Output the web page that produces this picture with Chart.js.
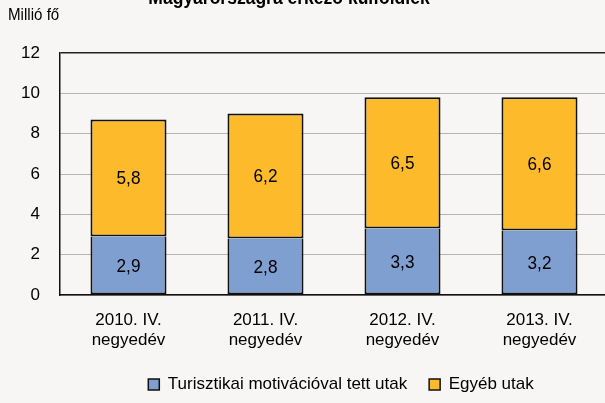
<!DOCTYPE html>
<html>
<head>
<meta charset="utf-8">
<script src="https://cdn.jsdelivr.net/npm/chart.js@4/dist/chart.umd.min.js"></script>
<style>
html,body{margin:0;padding:0;background:#f7f6f4;overflow:hidden;width:605px;height:403px;}
#wrap{position:absolute;left:0;top:0;width:625px;height:403px;}
</style>
</head>
<body>
<div id="wrap"><canvas id="c" width="625" height="403"></canvas></div>
<script>
const chartTitle = "Magyarországra érkező külföldiek";
const unitLabel = "Millió fő";
const categories = [["2010. IV.","negyedév"],["2011. IV.","negyedév"],["2012. IV.","negyedév"],["2013. IV.","negyedév"]];
const seriesNames = ["Turisztikai motivációval tett utak","Egyéb utak"];
const tourismTrips = [2.9, 2.8, 3.3, 3.2];
const otherTrips = [5.8, 6.2, 6.5, 6.6];
const yTicks = [0, 2, 4, 6, 8, 10, 12];

const FONT = "'Liberation Sans', Arial, sans-serif";

function narrowText(ctx, txt, x, y, sx) {
  ctx.save();
  ctx.translate(x, y);
  ctx.scale(sx, 1);
  ctx.fillText(txt, 0, 0);
  ctx.restore();
}

const textPlugin = {
  id: 'texts',
  afterLayout(chart) {
    const lg = chart.legend;
    if (lg) { lg.left += 37; lg.right += 37; }
  },
  afterDraw(chart) {
    const ctx = chart.ctx;
    ctx.save();
    ctx.fillStyle = '#000';
    ctx.textBaseline = 'alphabetic';
    ctx.font = "bold 21px " + FONT;
    ctx.textAlign = 'center';
    narrowText(ctx, chartTitle, 289, 4, 0.834);
    ctx.font = "17px " + FONT;
    ctx.textAlign = 'left';
    narrowText(ctx, unitLabel, 8, 20, 0.89);
    // data labels
    ctx.font = "18.5px " + FONT;
    ctx.textAlign = 'center';
    ctx.textBaseline = 'middle';
    chart.data.datasets.forEach((ds, i) => {
      const meta = chart.getDatasetMeta(i);
      meta.data.forEach((bar, j) => {
        const p = bar.getProps(['x','y','base'], true);
        const v = ds.data[j];
        narrowText(ctx, v.toFixed(1).replace('.', ','), p.x, (p.y + p.base) / 2 + 1, 0.93);
      });
    });
    ctx.restore();
  }
};

new Chart(document.getElementById('c'), {
  type: 'bar',
  data: {
    labels: categories,
    datasets: [
      {label: seriesNames[0], data: tourismTrips, backgroundColor: '#7f9fd1', borderColor: '#111', borderWidth: 2, borderSkipped: 'top'},
      {label: seriesNames[1], data: otherTrips, backgroundColor: '#fdbb2b', borderColor: '#111', borderWidth: 2, borderSkipped: false}
    ]
  },
  options: {
    responsive: false,
    animation: false,
    devicePixelRatio: 1,
    layout: {padding: {top: 53, right: 17, left: 0, bottom: 0}},
    datasets: {bar: {categoryPercentage: 1, barPercentage: 0.555}},
    plugins: {
      legend: {
        position: 'bottom',
        labels: {
          font: {family: FONT, size: 17},
          color: '#000',
          boxWidth: 11, boxHeight: 11,
          padding: 22,
          generateLabels(chart) {
            return chart.data.datasets.map((ds, i) => ({
              text: ds.label, fillStyle: ds.backgroundColor, strokeStyle: '#111', lineWidth: 1.5, datasetIndex: i, hidden: false
            }));
          }
        }
      },
      tooltip: {enabled: false}
    },
    scales: {
      x: {
        stacked: true,
        grid: {display: false, drawTicks: false},
        border: {display: true, color: '#111', width: 1.5},
        ticks: {font: {family: FONT, size: 17, lineHeight: 1.18}, color: '#000', padding: 15, maxRotation: 0},
        afterFit(s) { s.height = 59; }
      },
      y: {
        stacked: true,
        min: 0, max: 12,
        afterBuildTicks(s) { s.ticks = yTicks.map(v => ({value: v})); },
        grid: {
          drawTicks: false,
          color: ctx => ctx.tick && ctx.tick.value === 12 ? '#222' : '#b5b5b5',
          lineWidth: ctx => ctx.tick && ctx.tick.value === 12 ? 1.5 : 1
        },
        border: {display: true, color: '#111', width: 1.5},
        ticks: {font: {family: FONT, size: 17}, color: '#000', padding: 20},
        afterFit(s) { s.width = 60; }
      }
    }
  },
  plugins: [textPlugin]
});
</script>
</body>
</html>
